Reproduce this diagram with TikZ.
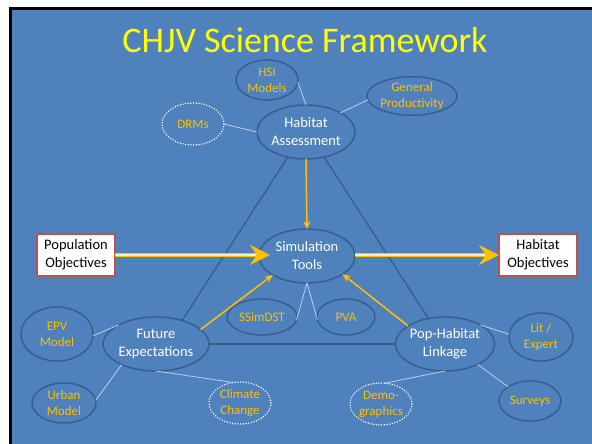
\documentclass[tikz,border=0pt]{standalone}
\usepackage{fontspec}
\setmainfont{Carlito}
\usetikzlibrary{shapes.geometric,arrows.meta}
\definecolor{slide}{HTML}{4F81BD}
\definecolor{edge}{HTML}{385D8A}
\definecolor{gold}{HTML}{FFC000}
\definecolor{thinc}{HTML}{C6D9F1}
\definecolor{boxred}{HTML}{C0504D}
\definecolor{paleyel}{HTML}{FBEFC4}
\definecolor{titley}{HTML}{FFFF00}
\begin{document}
\begin{tikzpicture}[x=1pt,y=-1pt,
  sz/.style 2 args={minimum width=#1pt, minimum height=#2pt},
  main/.style={ellipse, draw=edge, line width=1.4pt, fill=slide, text=white, inner sep=0pt, outer sep=0pt, align=center, font=\fontsize{14.5}{18}\selectfont},
  sat/.style={ellipse, draw=edge, line width=1.4pt, text=gold, inner sep=0pt, outer sep=0pt, align=center, font=\fontsize{13}{16}\selectfont},
  dotsat/.style={sat, draw=white, line width=1.6pt, dash pattern=on 0pt off 2.7pt, line cap=round},
  objbox/.style={rectangle, draw=boxred, line width=1.5pt, fill=white, text=black, inner sep=0pt, outer sep=0pt, align=center, minimum width=78pt, minimum height=42pt, font=\fontsize{14.5}{18}\selectfont},
  conn/.style={draw=thinc, line width=0.7pt},
  tri/.style={draw=edge, line width=1.3pt},
  yarr/.style={draw=gold, line width=1.5pt, -{Stealth[length=8pt,width=7pt]}},
  bigarr/.style={draw=gold, line width=4.6pt, -{Stealth[length=20pt,width=20pt,inset=7pt]}},
  innerl/.style={draw=paleyel, line width=1.6pt}
]
\useasboundingbox (0,0) rectangle (592,444);
\fill[white] (0,0) rectangle (592,444);
\fill[black] (9,7) rectangle (592,444);
\fill[slide] (12,10) rectangle (592,444);

\node[text=titley, font=\fontsize{36}{40}\selectfont] (title) at (305,40) {CHJV Science Framework};

% main nodes
\node[main, sz={94}{54}] (hab) at (306,132) {Habitat\\Assessment};
\node[main, sz={96}{54}] (sim) at (307,256) {Simulation\\Tools};
\node[main, sz={102}{54}] (fe) at (156,344) {Future\\Expectations};
\node[main, sz={94}{54}] (ph) at (445,344) {Pop-Habitat\\Linkage};

% triangle
\draw[tri] (hab.234) -- (fe.42);
\draw[tri] (hab.306) -- (ph.123);
\draw[tri] (fe.east) -- (ph.west);

% satellites
\node[sat, sz={62}{40}] (hsi) at (267,80) {HSI\\Models};
\node[sat, sz={90}{36}] (gen) at (412,96) {General\\Productivity};
\node[dotsat, sz={62}{42}] (drm) at (193,124) {DRMs};
\node[sat, sz={70}{36}] (ssim) at (262,317) {SSimDST};
\node[sat, sz={58}{36}] (pva) at (346,317) {PVA};
\node[sat, sz={72}{54}] (epv) at (57,334) {EPV\\Model};
\node[sat, sz={64}{40}] (urb) at (64,403) {Urban\\Model};
\node[dotsat, sz={62}{42}] (cli) at (240,403) {Climate\\Change};
\node[sat, sz={64}{48}] (lit) at (541,337) {Lit /\\Expert};
\node[sat, sz={62}{40}] (sur) at (530,401) {Surveys};
\node[dotsat, sz={62}{42}] (dem) at (381,404) {Demo-\\graphics};

% objective boxes
\node[objbox] (pop) at (76,255) {Population\\Objectives};
\node[objbox] (hobj) at (538,255) {Habitat\\Objectives};

% thin connectors
\draw[conn] (hsi.356) -- (hab.north);
\draw[conn] (gen.185) -- (hab.29);
\draw[conn] (drm.east) -- (hab.west);
\draw[conn] (sim.south) -- (ssim.355);
\draw[conn] (sim.south) -- (pva.185);
\draw[conn] (epv.357) -- (fe.153);
\draw[conn] (urb.5) -- (fe.211);
\draw[conn] (fe.south) -- (cli.108);
\draw[conn] (ph.28) -- (lit.175);
\draw[conn] (ph.328) -- (sur.147);
\draw[conn] (ph.south) -- (dem.79);

% yellow arrows
\draw[yarr] (hab.south) -- (sim.north);
\draw[yarr] (fe.18) -- (sim.209);
\draw[yarr] (ph.154) -- (sim.333);

% big double arrows
\draw[bigarr, shorten >=-11pt] (pop.east) -- (pop.east -| sim.west);
\draw[innerl, shorten >=3pt] (pop.east) -- (pop.east -| sim.west);
\draw[bigarr] (hobj.west -| sim.east) -- (hobj.west);
\draw[innerl, shorten >=14pt] (hobj.west -| sim.east) -- (hobj.west);
\end{tikzpicture}
\end{document}
